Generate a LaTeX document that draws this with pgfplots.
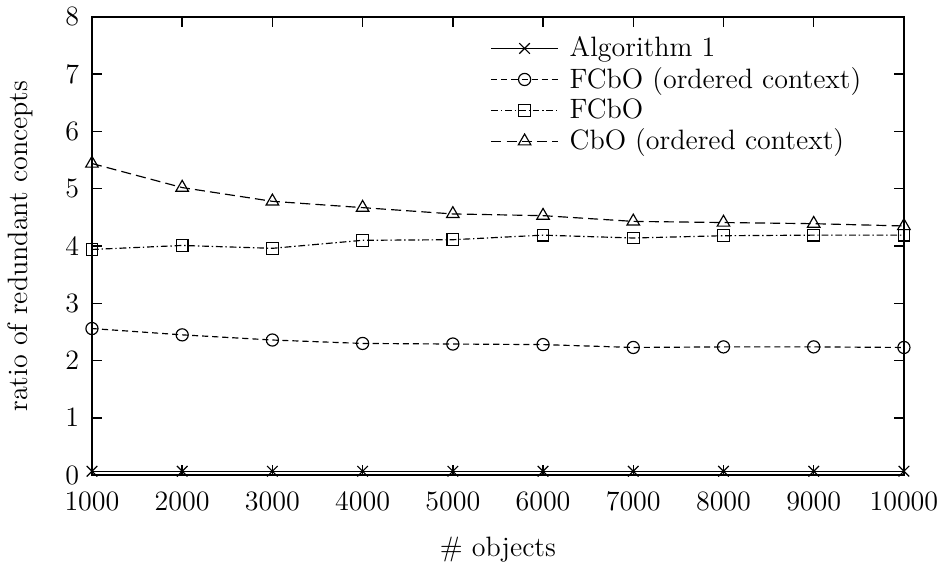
\documentclass[border=0pt]{standalone}
\usepackage{pgfplots}
\pgfplotsset{compat=1.18}

\pgfplotsset{
  longlegend/.style={
    legend image code/.code={
      \draw[mark repeat=2,mark phase=2,##1] plot coordinates {(0cm,0cm) (0.5cm,0cm) (1.0cm,0cm)};
      \path (1.1cm,0cm);
    }
  }
}

\begin{document}
\begin{tikzpicture}
\begin{axis}[
  width=12.22cm, height=6.9cm,
  scale only axis,
  font=\large,
  xmin=1000, xmax=10000, ymin=0, ymax=8,
  xtick={1000,2000,...,10000},
  ytick={0,1,...,8},
  scaled x ticks=false,
  x tick label style={/pgf/number format/set thousands separator={}, yshift=-4pt},
  y tick label style={xshift=-2pt},
  tick align=inside,
  major tick length=0.15cm,
  xtick pos=both, ytick pos=both,
  axis line style={line width=0.9pt},
  tick style={black, line width=0.6pt},
  xlabel={\# objects},
  ylabel={ratio of redundant concepts},
  xlabel style={yshift=-4.5pt},
  ylabel style={yshift=7pt},
  legend cell align=left,
  legend style={draw=none, fill=none, at={(0.482,0.978)}, anchor=north west, row sep=-1pt, font=\large},
  longlegend,
  every axis plot/.append style={black, line width=0.5pt},
]
\addplot[mark=x, mark size=3.2pt, solid] coordinates
  {(1000,0.07)(2000,0.07)(3000,0.07)(4000,0.07)(5000,0.07)(6000,0.07)(7000,0.07)(8000,0.07)(9000,0.07)(10000,0.07)};
\addlegendentry{Algorithm 1}
\addplot[mark=o, mark size=2.6pt, mark options={solid}, dash pattern=on 2.6pt off 1.7pt] coordinates
  {(1000,2.56)(2000,2.45)(3000,2.36)(4000,2.30)(5000,2.29)(6000,2.28)(7000,2.23)(8000,2.24)(9000,2.24)(10000,2.23)};
\addlegendentry{FCbO (ordered context)}
\addplot[mark=square, mark size=2.5pt, mark options={solid}, dash pattern=on 2.9pt off 1.2pt on 0.6pt off 1.2pt] coordinates
  {(1000,3.94)(2000,4.01)(3000,3.96)(4000,4.10)(5000,4.11)(6000,4.19)(7000,4.14)(8000,4.18)(9000,4.19)(10000,4.19)};
\addlegendentry{FCbO}
\addplot[mark=triangle, mark size=3.1pt, mark options={solid}, dash pattern=on 4.3pt off 2.2pt] coordinates
  {(1000,5.44)(2000,5.02)(3000,4.78)(4000,4.67)(5000,4.56)(6000,4.53)(7000,4.43)(8000,4.41)(9000,4.39)(10000,4.35)};
\addlegendentry{CbO (ordered context)}
\end{axis}
\end{tikzpicture}
\end{document}
